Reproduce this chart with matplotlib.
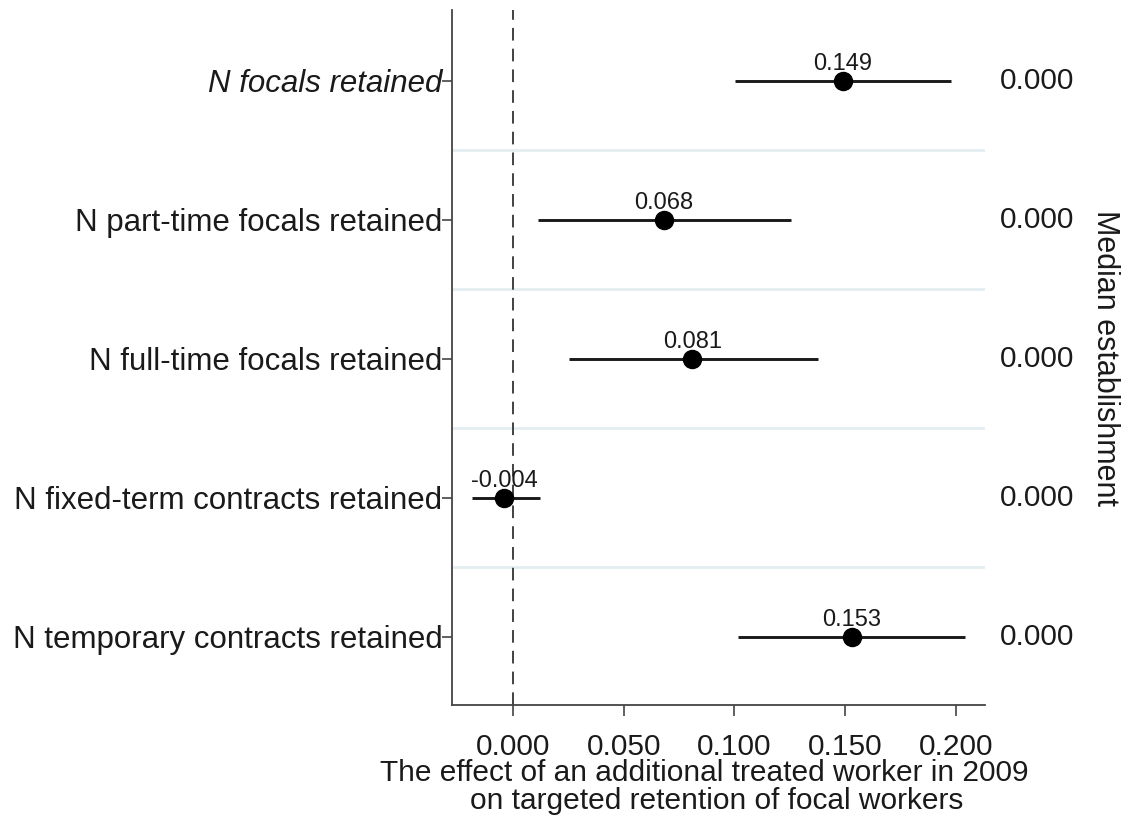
import matplotlib.pyplot as plt
import matplotlib.transforms as mtransforms

plt.rcParams["font.family"] = ["Liberation Sans", "DejaVu Sans"]

labels = [
    "N focals retained",
    "N part-time focals retained",
    "N full-time focals retained",
    "N fixed-term contracts retained",
    "N temporary contracts retained",
]
estimates = [0.149, 0.068, 0.081, -0.004, 0.153]
ci_low = [0.1005, 0.0113, 0.0252, -0.0185, 0.1016]
ci_high = [0.1978, 0.1257, 0.1378, 0.0122, 0.2040]
medians = ["0.000", "0.000", "0.000", "0.000", "0.000"]
xticks = [0.0, 0.05, 0.10, 0.15, 0.20]

rows = list(range(1, len(labels) + 1))

fig = plt.figure(figsize=(11.23, 8.18), dpi=100)
ax = fig.add_axes([0.4025, 0.138, 0.4745, 0.85])

# separators between rows
for r in rows[:-1]:
    ax.axhline(r + 0.5, color="#e4eef0", linewidth=2, zorder=0)

ax.axvline(0, color="#333333", linewidth=1.3, linestyle=(0, (7, 4.5)), zorder=1)

ax.hlines(rows, ci_low, ci_high, color="#1a1a1a", linewidth=2.1, zorder=2)
ax.plot(estimates, rows, "o", color="black", markersize=13, zorder=3)

for est, r in zip(estimates, rows):
    ax.annotate(f"{est:.3f}", (est, r), xytext=(0, 8), textcoords="offset points",
                ha="center", va="baseline", fontsize=17, color="#1a1a1a")

trans = mtransforms.blended_transform_factory(ax.transAxes, ax.transData)
for m, r in zip(medians, rows):
    ax.text(1.028, r, m, transform=trans, ha="left", va="center", fontsize=21.5,
            color="#1a1a1a")

ax.set_xlim(-0.0275, 0.2131)
ax.set_ylim(5.49, 0.49)
ax.set_xticks(xticks)
ax.set_xticklabels([f"{t:.3f}" for t in xticks])
ax.set_yticks(rows)
ax.set_yticklabels(labels)
ax.get_yticklabels()[0].set_style("italic")

ax.tick_params(axis="x", labelsize=21.5, length=8, width=1.2, color="#444444", pad=12,
               labelcolor="#1a1a1a")
ax.tick_params(axis="y", labelsize=22.5, length=7, width=1.2, color="#444444", pad=0,
               labelcolor="#1a1a1a")

for side in ["top", "right"]:
    ax.spines[side].set_visible(False)
for side in ["left", "bottom"]:
    ax.spines[side].set_color("#444444")
    ax.spines[side].set_linewidth(1.3)

fig.text(704 / 1123, 1 - 773 / 818, "The effect of an additional treated worker in 2009",
         ha="center", va="center", fontsize=21.5, color="#1a1a1a")
fig.text(717 / 1123, 1 - 801 / 818, "on targeted retention of focal workers",
         ha="center", va="center", fontsize=21.5, color="#1a1a1a")
fig.text(1105 / 1123, 1 - 358 / 818, "Median establishment", rotation=270,
         ha="center", va="center", fontsize=22, color="#1a1a1a")

fig.savefig("out.png", dpi=100)
